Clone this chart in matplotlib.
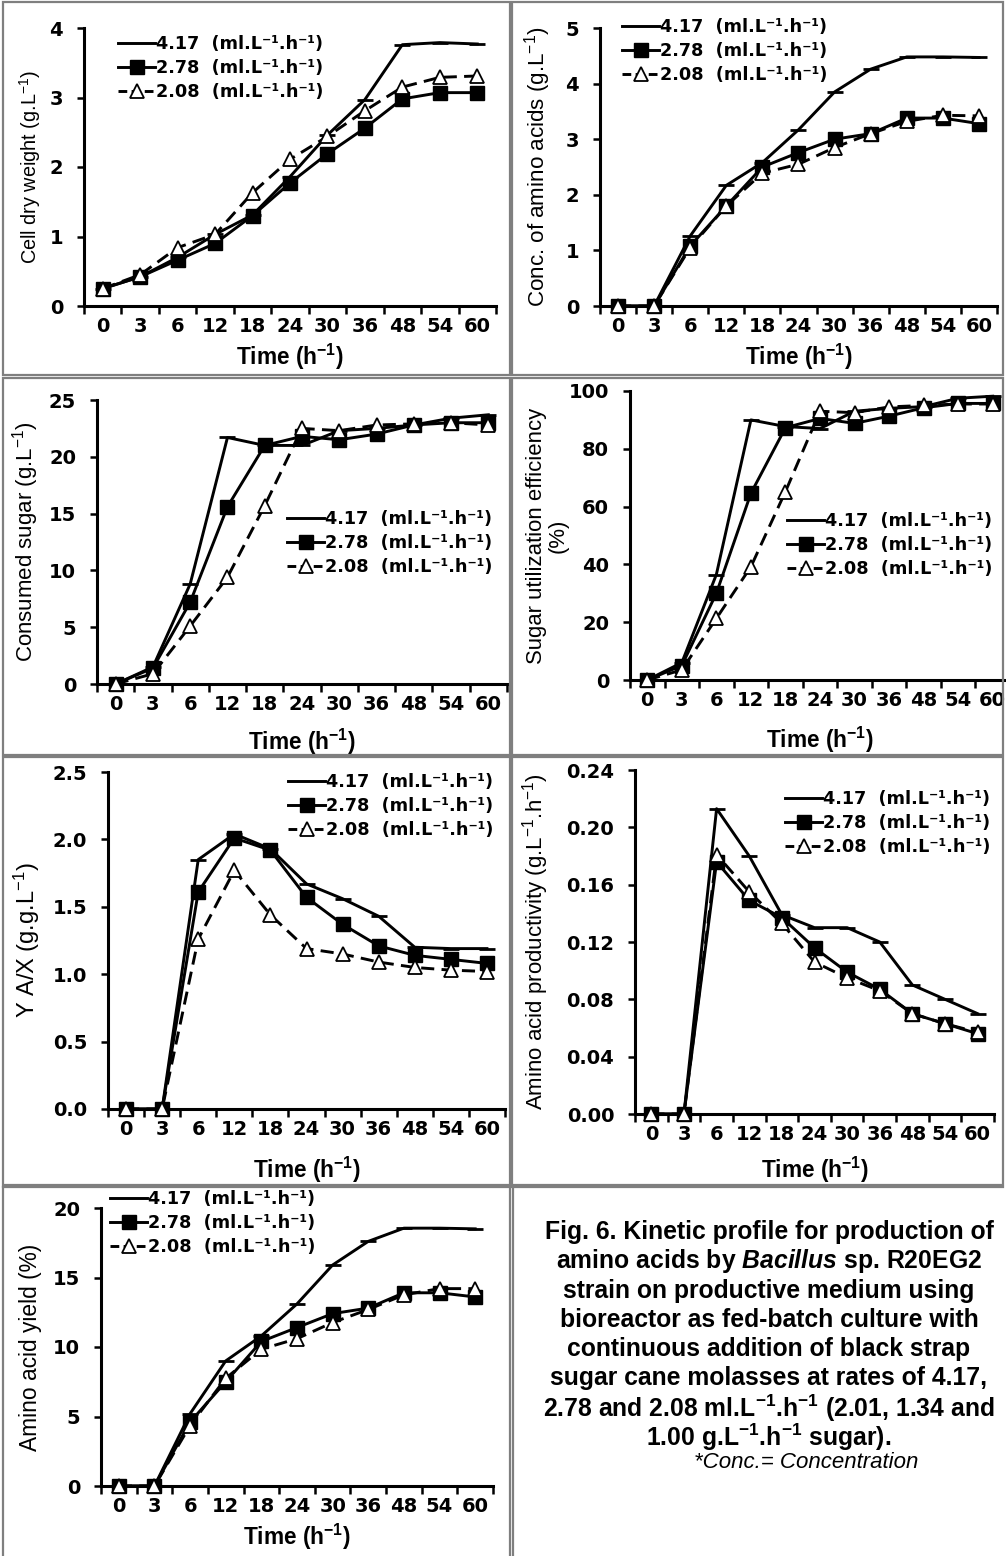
import matplotlib
matplotlib.use("Agg")
import matplotlib.pyplot as plt
from matplotlib.lines import Line2D
from matplotlib.patches import Rectangle

plt.rcParams["mathtext.default"] = "regular"
plt.rcParams["mathtext.fontset"] = "custom"
plt.rcParams["mathtext.it"] = "Liberation Sans:italic:bold"

W, H = 1006, 1556

# ── Data ─────────────────────────────────────────────────────────────────────
times = ["0", "3", "6", "12", "18", "24", "30", "36", "48", "54", "60"]
rates = ["4.17", "2.78", "2.08"]

cdw_417 = [0.25, 0.42, 0.70, 1.03, 1.31, 1.86, 2.46, 2.97, 3.76, 3.79, 3.77]
cdw_278 = [0.25, 0.42, 0.66, 0.90, 1.30, 1.77, 2.19, 2.56, 2.98, 3.07, 3.07]
cdw_208 = [0.25, 0.45, 0.84, 1.03, 1.63, 2.11, 2.44, 2.81, 3.15, 3.29, 3.31]

aa_417 = [0, 0, 1.26, 2.17, 2.58, 3.17, 3.85, 4.26, 4.48, 4.48, 4.47]
aa_278 = [0, 0, 1.08, 1.80, 2.50, 2.76, 3.00, 3.10, 3.38, 3.38, 3.28]
aa_208 = [0, 0, 1.05, 1.80, 2.39, 2.55, 2.85, 3.10, 3.32, 3.43, 3.42]

sug_417 = [0, 1.5, 8.8, 21.7, 21.0, 21.0, 22.3, 22.5, 22.8, 23.4, 23.7]
sug_278 = [0, 1.4, 7.2, 15.6, 21.0, 21.8, 21.5, 22.0, 22.8, 23.0, 23.0]
sug_208 = [0, 0.9, 5.1, 9.4, 15.7, 22.5, 22.3, 22.8, 22.9, 23.0, 22.8]

eff_417 = [0, 6.0, 36.5, 90.0, 87.7, 87.0, 93.0, 94.0, 94.6, 97.5, 98.2]
eff_278 = [0, 5.0, 30.0, 64.6, 87.3, 90.5, 88.8, 91.3, 94.2, 95.7, 95.7]
eff_208 = [0, 3.5, 21.3, 39.2, 65.2, 93.0, 92.5, 94.5, 95.0, 95.5, 95.5]

yax_417 = [0, 0, 1.85, 2.04, 1.93, 1.67, 1.56, 1.43, 1.20, 1.19, 1.19]
yax_278 = [0, 0, 1.61, 2.01, 1.92, 1.57, 1.37, 1.21, 1.14, 1.11, 1.08]
yax_208 = [0, 0, 1.26, 1.77, 1.44, 1.19, 1.15, 1.09, 1.05, 1.03, 1.02]

prod_417 = [0, 0, 0.213, 0.180, 0.139, 0.130, 0.130, 0.120, 0.090, 0.080, 0.070]
prod_278 = [0, 0, 0.176, 0.149, 0.137, 0.116, 0.099, 0.087, 0.070, 0.063, 0.056]
prod_208 = [0, 0, 0.181, 0.155, 0.133, 0.106, 0.095, 0.086, 0.070, 0.063, 0.057]

yld_417 = [0, 0, 5.2, 9.0, 10.8, 13.1, 15.9, 17.6, 18.55, 18.55, 18.5]
yld_278 = [0, 0, 4.6, 7.5, 10.4, 11.4, 12.4, 12.8, 13.9, 13.9, 13.6]
yld_208 = [0, 0, 4.35, 7.75, 9.84, 10.6, 11.76, 12.7, 13.75, 14.2, 14.2]

TICK_FONT = dict(family="DejaVu Sans", weight="bold", size=14)
LEG_FONT = dict(family="DejaVu Sans", weight="bold", size=12.7)
LW = 2.1


def px_axes(fig, l, t, r, b):
    return fig.add_axes([l / W, 1 - b / H, (r - l) / W, (b - t) / H])


def draw_panel(fig, box, series, ylim, yticks, yfmt, ylabel, ylab_size, ylab_x,
               xlab_y, leg_xy):
    l, t, r, b = box
    ax = px_axes(fig, l, t, r, b)
    x = list(range(len(times)))
    s417, s278, s208 = series
    ax.plot(x, s417, color="black", lw=LW, marker="_", ms=11, mew=2,
            clip_on=False, zorder=3)
    ax.plot(x, s278, color="black", lw=LW, marker="s", ms=9.5, mfc="black",
            clip_on=False, zorder=4)
    ax.plot(x, s208, color="black", lw=LW, ls=(0, (4.5, 2.5)), marker="^", ms=10.5,
            mfc="white", mew=1.3, clip_on=False, zorder=5)

    ax.set_xlim(-0.5, len(times) - 0.5)
    ax.set_ylim(*ylim)
    ax.set_xticks([i - 0.5 for i in range(len(times) + 1)])
    ax.set_xticklabels([])
    ax.set_xticks(x, minor=True)
    ax.set_xticklabels(times, minor=True, fontdict=TICK_FONT)
    ax.tick_params(axis="x", which="major", length=6, width=1.8, direction="out")
    ax.tick_params(axis="x", which="minor", length=0, pad=8)
    ax.set_yticks(yticks)
    ax.set_yticklabels([yfmt.format(v) for v in yticks], fontdict=TICK_FONT)
    ax.tick_params(axis="y", length=5, width=1.8, direction="out", pad=10)

    for side in ("top", "right"):
        ax.spines[side].set_visible(False)
    for side in ("left", "bottom"):
        ax.spines[side].set_linewidth(2.2)
    ax.patch.set_alpha(0)

    ax.set_xlabel("Time (h$^{-1}$)", family="Liberation Sans", weight="bold",
                  size=16.3, va="center")
    ax.xaxis.set_label_coords(0.5, (b - xlab_y) / (b - t))
    ax.set_ylabel(ylabel, family="Liberation Sans", size=ylab_size, linespacing=1.05,
                  va="center")
    ax.yaxis.set_label_coords((ylab_x - l) / (r - l), 0.5)

    handles = [
        Line2D([], [], color="black", lw=LW),
        Line2D([], [], color="black", lw=LW, marker="s", ms=9.5),
        Line2D([], [], color="black", lw=LW, ls=(0, (3, 1.5)), marker="^", ms=10.5,
               mfc="white", mew=1.3),
    ]
    labels = [f"{r_}  (ml.L⁻¹.h⁻¹)" for r_ in rates]
    lx, ly = leg_xy
    ax.legend(handles, labels, loc="upper left", bbox_to_anchor=(lx / W, 1 - ly / H),
              bbox_transform=fig.transFigure, frameon=False, prop=LEG_FONT,
              handlelength=2.1, handletextpad=0.05, labelspacing=0.35,
              borderpad=0, borderaxespad=0)
    return ax


fig = plt.figure(figsize=(W / 100, H / 100), dpi=100)

# ── Boxes ────────────────────────────────────────────────────────────────────
BOX = "#7f7f7f"
for (x0, y0, x1, y1) in [(3, 2, 510, 375), (512, 2, 1003, 375),
                         (3, 378, 510, 755), (512, 378, 1003, 755),
                         (3, 757, 510, 1185), (512, 757, 1003, 1185)]:
    fig.patches.append(Rectangle((x0 / W, 1 - y1 / H), (x1 - x0) / W, (y1 - y0) / H,
                                 transform=fig.transFigure, fill=False,
                                 edgecolor=BOX, lw=1.6))
fig.add_artist(Line2D([3 / W, 3 / W], [0, 1 - 1187 / H], color=BOX, lw=1.6))
fig.add_artist(Line2D([510 / W, 510 / W], [0, 1 - 1187 / H], color=BOX, lw=1.6))
fig.add_artist(Line2D([3 / W, 1003 / W], [1 - 1187 / H, 1 - 1187 / H], color=BOX, lw=1.6))
fig.add_artist(Line2D([513 / W, 513 / W], [0, 1 - 1187 / H], color=BOX, lw=1.6))

# ── Panels ───────────────────────────────────────────────────────────────────
draw_panel(fig, (84, 28, 496, 306), (cdw_417, cdw_278, cdw_208),
           (0, 4), [0, 1, 2, 3, 4], "{:.0f}", "Cell dry weight (g.L$^{-1}$)",
           14.3, 30, 357, (118, 35))
draw_panel(fig, (600, 28, 997, 306), (aa_417, aa_278, aa_208),
           (0, 5), [0, 1, 2, 3, 4, 5], "{:.0f}", "Conc. of amino acids (g.L$^{-1}$)",
           16.1, 538, 357, (622, 18))
draw_panel(fig, (97, 400, 507, 684), (sug_417, sug_278, sug_208),
           (0, 25), [0, 5, 10, 15, 20, 25], "{:.0f}", "Consumed sugar (g.L$^{-1}$)",
           16, 26, 742, (287, 510))
draw_panel(fig, (630, 391, 1010, 680), (eff_417, eff_278, eff_208),
           (0, 100), [0, 20, 40, 60, 80, 100], "{:.0f}",
           "Sugar utilization efficiency\n(%)", 15.9, 547, 740, (787, 512))
draw_panel(fig, (108, 772, 505, 1109), (yax_417, yax_278, yax_208),
           (0, 2.5), [0, 0.5, 1.0, 1.5, 2.0, 2.5], "{:.1f}", "Y A/X (g.g.L$^{-1}$)",
           17, 27, 1170, (288, 773))
draw_panel(fig, (635, 770, 994, 1114), (prod_417, prod_278, prod_208),
           (0, 0.24), [0, 0.04, 0.08, 0.12, 0.16, 0.20, 0.24], "{:.2f}",
           "Amino acid productivity (g.L$^{-1}$.h$^{-1}$)", 16, 536, 1170, (785, 790))
draw_panel(fig, (101, 1208, 493, 1486), (yld_417, yld_278, yld_208),
           (0, 20), [0, 5, 10, 15, 20], "{:.0f}", "Amino acid yield (%)",
           16.4, 31, 1537, (110, 1190))

# ── Caption ──────────────────────────────────────────────────────────────────
caption = [
    "Fig. 6. Kinetic profile for production of",
    r"amino acids by $\mathit{Bacillus}$ sp. R20EG2",
    "strain on productive medium using",
    "bioreactor as fed-batch culture with",
    "continuous addition of black strap",
    "sugar cane molasses at rates of 4.17,",
    "2.78 and 2.08 ml.L$^{-1}$.h$^{-1}$ (2.01, 1.34 and",
    "1.00 g.L$^{-1}$.h$^{-1}$ sugar).",
]
for i, line in enumerate(caption):
    y = 1232 + i * 29.3
    fig.text(769 / W, 1 - y / H, line, ha="center", va="center",
             family="Liberation Sans", weight="bold", size=17.8)
fig.text(806 / W, 1 - 1462 / H, "*Conc.= Concentration", ha="center", va="center",
         family="Liberation Sans", style="italic", size=16)

fig.savefig("out.png", dpi=100)
